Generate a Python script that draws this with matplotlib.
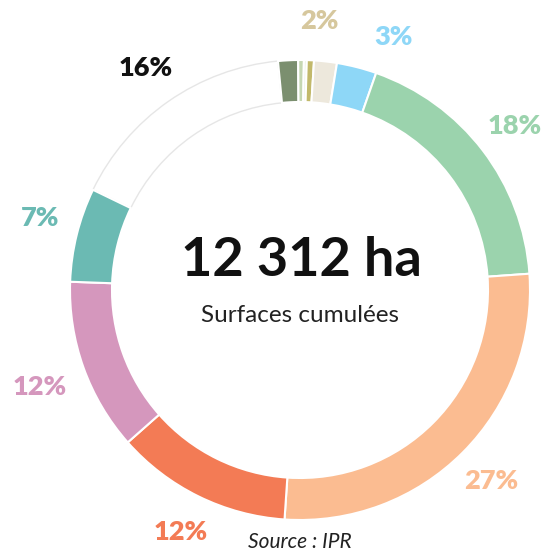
import numpy as np
import matplotlib
matplotlib.use('Agg')
from matplotlib import pyplot as plt

# share of the 12 312 ha, clockwise from the top
shares = [1.4, 0.4, 0.2, 0.5, 1.6, 2.8, 18.5, 27.2, 12.4, 12.1, 6.6, 16.3]
labels = ['', '', '', '', '2%', '3%', '18%', '27%', '12%', '12%', '7%', '16%']
colors = ['#7b8f6f', '#c5d7b2', '#e4ecd8', '#c2b96b', '#ede8dc', '#8ed7f7',
          '#9bd3ad', '#fbbc91', '#f37b55', '#d597bd', '#6bbab3', '#ffffff']
label_colors = ['#7b8f6f', '#c5d7b2', '#e4ecd8', '#c2b96b', '#d6c79d', '#8ed7f7',
                '#9bd3ad', '#fbbc91', '#f37b55', '#d597bd', '#6bbab3', '#111111']
total_text = '12 312 ha'
subtitle = 'Surfaces cumulées'
source = 'Source : IPR'

W, H = 552, 554
CX, CY = 300, H - 290
R_OUT, RING = 230, 42
R_LABEL = 270
# small angular nudges (degrees, counter-clockwise) for crowded labels
label_shift = {4: 2.3, 5: -6.0, 9: 0.8, 10: -1.5}
label_radius = {9: 278}

fig = plt.figure(figsize=(W / 100, H / 100), dpi=100)
ax = fig.add_axes([0, 0, 1, 1])
ax.set_xlim(0, W)
ax.set_ylim(0, H)
ax.set_aspect('equal')
ax.axis('off')

wedges, _ = ax.pie(shares, colors=colors, center=(CX, CY), radius=R_OUT,
                   startangle=95.5, counterclock=False,
                   wedgeprops=dict(width=RING, edgecolor='white', linewidth=1.5))
ax.set_xlim(0, W)
ax.set_ylim(0, H)

# the empty slice only shows a faint outline
wedges[-1].set_edgecolor('#e6e6e6')
wedges[-1].set_linewidth(1.0)
wedges[-1].set_zorder(0)

for i, (w, lab) in enumerate(zip(wedges, labels)):
    if not lab:
        continue
    ang = np.deg2rad((w.theta1 + w.theta2) / 2 + label_shift.get(i, 0))
    r = label_radius.get(i, R_LABEL)
    ax.text(CX + r * np.cos(ang), CY + r * np.sin(ang), lab,
            color=label_colors[i], fontsize=19.5, fontweight='heavy',
            family='Lato', ha='center', va='center')

ax.text(CX + 1, H - 260, total_text, fontsize=39, fontweight='bold',
        family='Lato', ha='center', va='center', color='#111111')
ax.text(CX, H - 316, subtitle, fontsize=17.5, family='Lato',
        ha='center', va='center', color='#222222')
ax.text(CX, H - 542, source, fontsize=15, family='Lato', style='italic',
        ha='center', va='center', color='#222222')

fig.savefig('out.png', dpi=100)
